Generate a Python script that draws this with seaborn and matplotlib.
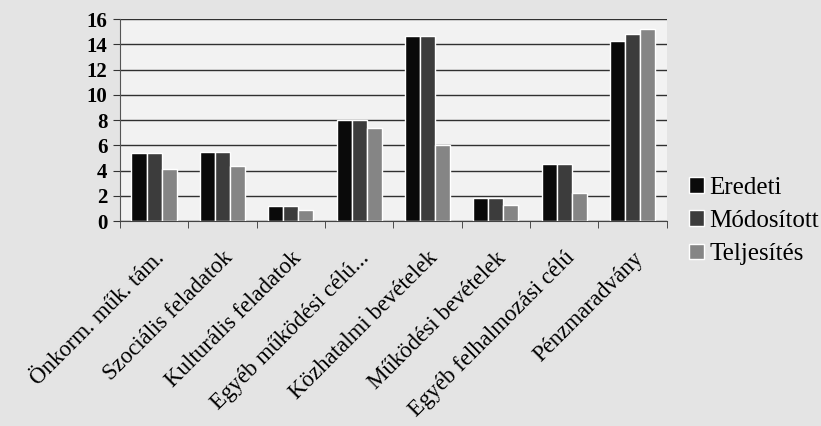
import pandas as pd
import numpy as np
import matplotlib.pyplot as plt
import seaborn as sns

# Categories and series values
categories = ["Önkorm. műk. tám.", "Szociális feladatok", "Kulturális feladatok",
              "Egyéb működési célú...", "Közhatalmi bevételek", "Működési bevételek",
              "Egyéb felhalmozási célú", "Pénzmaradvány"]
eredeti = [5.4, 5.5, 1.2, 8.0, 14.7, 1.8, 4.5, 14.3]
modositott = [5.4, 5.5, 1.2, 8.0, 14.7, 1.8, 4.5, 14.8]
teljesites = [4.1, 4.4, 0.9, 7.4, 6.0, 1.3, 2.2, 15.2]
series = ["Eredeti", "Módosított", "Teljesítés"]
yticks = [0, 2, 4, 6, 8, 10, 12, 14, 16]

df = pd.DataFrame({
    "kategoria": categories * 3,
    "ertek": eredeti + modositott + teljesites,
    "sorozat": [s for s in series for _ in categories],
})

sns.set_style("white")
plt.rcParams['font.family'] = ['Liberation Serif', 'DejaVu Serif']
plt.rcParams['text.color'] = 'black'
plt.rcParams['xtick.color'] = 'black'
plt.rcParams['ytick.color'] = 'black'

fig = plt.figure(figsize=(8.21, 4.26), dpi=100, facecolor="#e4e4e4")
ax = fig.add_axes([0.146, 0.481, 0.666, 0.474])
ax.set_facecolor("#f2f2f2")

palette = {"Eredeti": "#0a0a0a", "Módosított": "#3c3c3c", "Teljesítés": "#858585"}
sns.barplot(data=df, x="kategoria", y="ertek", hue="sorozat", palette=palette,
            width=0.66, gap=0, saturation=1, ax=ax, zorder=3)

ax.set_ylim(0, 16)
ax.set_xlim(-0.5, len(categories) - 0.5)
ax.set_yticks(yticks)
ax.set_yticklabels([str(t) for t in yticks], fontsize=15, fontweight="bold")
ax.yaxis.grid(True, color="#303030", linewidth=1, zorder=0)
ax.set_axisbelow(True)

# x ticks between groups, labels at group centres
ax.set_xticks(np.arange(len(categories)))
ax.set_xticklabels(categories, rotation=45, ha="right", rotation_mode="anchor", fontsize=16.5)
ax.set_xticks(np.arange(len(categories) + 1) - 0.5, minor=True)
ax.tick_params(axis="x", which="major", length=0, pad=19)
ax.tick_params(axis="x", which="minor", length=5, color="#333333", bottom=True)
ax.tick_params(axis="y", length=5, color="#333333", left=True, pad=4)

for s in ["top", "right"]:
    ax.spines[s].set_visible(False)
ax.spines["left"].set_color("#555555")
ax.spines["bottom"].set_color("#444444")

ax.set_xlabel("")
ax.set_ylabel("")
ax.legend(loc="center left", bbox_to_anchor=(1.0, 0.0), frameon=False,
          prop={"family": "Liberation Serif", "size": 18},
          handlelength=0.6, handleheight=0.6, handletextpad=0.2, labelspacing=0.45)

plt.savefig("out.png", dpi=100, facecolor=fig.get_facecolor())
